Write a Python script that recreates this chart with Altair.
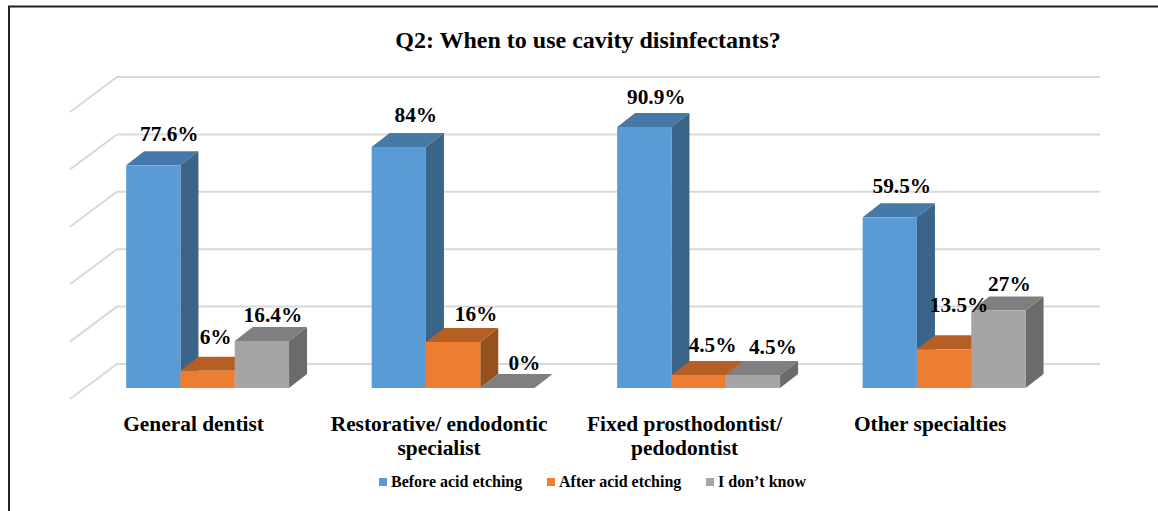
import altair as alt
import pandas as pd

# Survey responses, percent of respondents in each group
categories = ["General dentist", "Restorative/ endodontic\nspecialist",
              "Fixed prosthodontist/\npedodontist", "Other specialties"]
series = ["Before acid etching", "After acid etching", "I don\u2019t know"]
before = [77.6, 84, 90.9, 59.5]
after = [6, 16, 4.5, 13.5]
unknown = [16.4, 0, 4.5, 27]

# Colours per series: front, top and side faces of the 3D columns
front_colors = ["#5b9bd5", "#ed7d31", "#a5a5a5"]
top_colors = ["#4678a8", "#b55f24", "#7f7f7f"]
side_colors = ["#3a6488", "#95511e", "#6b6b6b"]

# Hand-placed data label nudges in pixels (right, up from the column's back top edge)
label_nudge_x = [[16, 8, 11], [17, 23, 17], [12, 14, 20], [12, 15, 11]]
label_nudge_y = [[18, 20, 12], [18, 15, 12], [17, 17, 15], [18, 31, 13]]

W, H = 1158, 511
PX_X = 245.5           # pixels per category step
PX_Y = 2.87            # pixels per percentage point
X0, Y0 = 207.6, 388.0  # pixel position of the first category centre and of zero
BAR = 54.3 / PX_X      # column width in category units
DX = 18 / PX_X         # column depth, horizontal part
DY = 14 / PX_Y         # column depth, vertical part
x_domain = [-X0 / PX_X, (W - X0) / PX_X]
y_domain = [(Y0 - H) / PX_Y, Y0 / PX_Y]

x_scale = alt.Scale(domain=x_domain, range=[0, W], nice=False, zero=False)
y_scale = alt.Scale(domain=y_domain, range=[H, 0], nice=False, zero=False)


def X(field):
    return alt.X(field, type="quantitative", scale=x_scale, axis=None)


def Y(field):
    return alt.Y(field, type="quantitative", scale=y_scale, axis=None)


def face(points, fill):
    """One parallelogram of a column, drawn as an area between two edges."""
    df = pd.DataFrame(points, columns=["x", "lo", "hi"])
    return alt.Chart(df).mark_area(fill=fill, interpolate="linear").encode(
        x=X("x"), y=Y("lo"), y2="hi:Q")


bars, face_layers, labels = [], [], []
for g, values in enumerate(zip(before, after, unknown)):
    for s, v in enumerate(values):
        x0 = g + (s - 1.5) * BAR
        x1 = x0 + BAR
        bars.append(dict(series=series[s], x0=x0, x1=x1, v=v, base=0))
        face_layers.append(face([(x1, 0, v), (x1 + DX, DY, v + DY)], side_colors[s]))
        face_layers.append(face([(x0, v, v), (x0 + DX, v, v + DY), (x1, v, v + DY),
                                 (x1 + DX, v + DY, v + DY)], top_colors[s]))
        labels.append(dict(text=f"{v:g}%",
                           x=x0 + BAR / 2 + label_nudge_x[g][s] / PX_X,
                           y=v + DY + label_nudge_y[g][s] / PX_Y))

# Gridlines run along the back wall and fold down the left wall
WALL_BACK_X = (117 - X0) / PX_X
WALL_FRONT_X = (70 - X0) / PX_X
WALL_END_X = (1100 - X0) / PX_X
WALL_BACK_Y = 24 / PX_Y
WALL_FRONT_Y = -11 / PX_Y
grid = []
for tick in range(0, 101, 20):
    for px, py in [(WALL_FRONT_X, WALL_FRONT_Y), (WALL_BACK_X, WALL_BACK_Y), (WALL_END_X, WALL_BACK_Y)]:
        grid.append(dict(tick=tick, x=px, y=tick + py))

grid_layer = alt.Chart(pd.DataFrame(grid)).mark_line(color="#d9d9d9", strokeWidth=2).encode(
    x=X("x"), y=Y("y"), detail="tick:N", order="x:Q")

front_layer = alt.Chart(pd.DataFrame(bars)).mark_bar().encode(
    x=X("x0"), x2="x1:Q", y=Y("base"), y2="v:Q",
    color=alt.Color("series:N",
                    scale=alt.Scale(domain=series, range=front_colors),
                    legend=alt.Legend(orient="none", legendX=375, legendY=474, title=None,
                                      direction="horizontal", columns=3, gridAlign="each",
                                      columnPadding=20, symbolType="square", symbolSize=64,
                                      symbolStrokeWidth=0, labelOffset=0,
                                      labelFont="Liberation Serif", labelFontWeight="bold",
                                      labelFontSize=16, labelColor="#000000", labelLimit=0)))

label_layer = alt.Chart(pd.DataFrame(labels)).mark_text(
    font="Liberation Serif", fontWeight="bold", fontSize=21.3, color="#000000", dy=1.5).encode(
    x=X("x"), y=Y("y"), text="text:N")

cat_df = pd.DataFrame(dict(name=categories, x=[g - 14 / PX_X for g in range(len(categories))]))
cat_layer = alt.Chart(cat_df).mark_text(
    font="Liberation Serif", fontWeight="bold", fontSize=21.4, color="#000000",
    baseline="top", lineBreak="\n", lineHeight=24).encode(
    x=X("x"), y=alt.value(414), text="name:N")

# Frame around the figure, top and left edges
frame_df = pd.DataFrame(dict(a=[0]))
frame_top = alt.Chart(frame_df).mark_rule(color="#222222", strokeWidth=2).encode(
    x=alt.value(8), x2=alt.value(W), y=alt.value(6.5))
frame_left = alt.Chart(frame_df).mark_rule(color="#222222", strokeWidth=2).encode(
    x=alt.value(9), y=alt.value(6), y2=alt.value(H))

chart = alt.layer(grid_layer, *face_layers, front_layer, label_layer, cat_layer, frame_top, frame_left).properties(
    width=W, height=H, padding=0, autosize=alt.AutoSizeParams(type="none"),
    title=alt.Title("Q2: When to use cavity disinfectants?", font="Liberation Serif", fontWeight="bold",
                    fontSize=24, color="#000000", anchor="middle", dx=9, dy=57),
).configure_view(stroke=None)

chart.save("out.html", embed_options={"renderer": "svg", "actions": False})
